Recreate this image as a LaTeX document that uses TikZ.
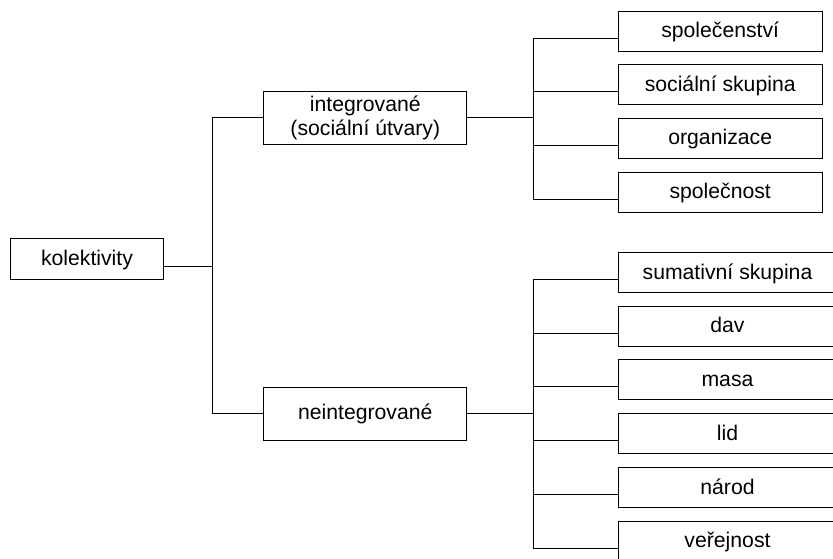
\documentclass[tikz,border=0pt]{standalone}
\usepackage{fontspec}
\setmainfont{Liberation Sans}
\begin{document}
\begin{tikzpicture}[x=1pt,y=-1pt,
  every node/.style={font=\fontsize{21.2}{22}\selectfont},
  box/.style={draw, line width=1pt, inner sep=0pt, anchor=north west, align=center},
  leaf/.style={box, minimum width=204pt, minimum height=40pt, text height=16pt, text depth=3pt},
  wideleaf/.style={box, minimum width=218pt, minimum height=40pt, text height=16pt, text depth=3pt},
  mid/.style={box, minimum width=203pt, minimum height=53.3pt, font=\fontsize{21.2}{24}\selectfont},
  conn/.style={line width=1pt}]
\useasboundingbox (0,0) rectangle (833,558);
\clip (0,0) rectangle (833,558);
% root
\node[box, minimum width=153pt, minimum height=41pt, text height=16pt, text depth=3pt] (root) at (10,238) {kolektivity};
% middle
\node[mid] (int) at (263.3,90.7) {integrované\\(sociální útvary)};
\node[mid] (neint) at (263.3,386.7) {neintegrované};
% top leaves
\node[leaf] (t1) at (617.7,10.7) {společenství};
\node[leaf] (t2) at (617.7,64.3) {sociální skupina};
\node[leaf] (t3) at (617.7,117.7) {organizace};
\node[leaf] (t4) at (617.7,171.7) {společnost};
% bottom leaves
\node[wideleaf] (s1) at (618,252.3) {sumativní skupina};
\node[wideleaf] (s2) at (618,305.7) {dav};
\node[wideleaf] (s3) at (618,359.3) {masa};
\node[wideleaf] (s4) at (618,413.3) {lid};
\node[wideleaf] (s5) at (618,467.3) {národ};
\node[wideleaf] (s6) at (618,520.7) {veřejnost};
% buses
\coordinate (b1) at (212.7,0);
\coordinate (b2) at (533.3,0);
\coordinate (rp) at ([yshift=-7pt]root.east);
\draw[conn] (rp) -- (rp -| b1);
\draw[conn] (int.west) -- (int.west -| b1) -- (neint.west -| b1) -- (neint.west);
\draw[conn] (int.east) -- (int.east -| b2);
\draw[conn] (neint.east) -- (neint.east -| b2);
\foreach \n in {t1,t2,t3,t4,s1,s2,s3,s4,s5,s6}{
  \coordinate (\n p) at ([yshift=-7pt]\n.west);
  \draw[conn] (\n p) -- (\n p -| b2);
}
\draw[conn] (t1p -| b2) -- (t4p -| b2);
\draw[conn] (s1p -| b2) -- (s6p -| b2);
\end{tikzpicture}
\end{document}
